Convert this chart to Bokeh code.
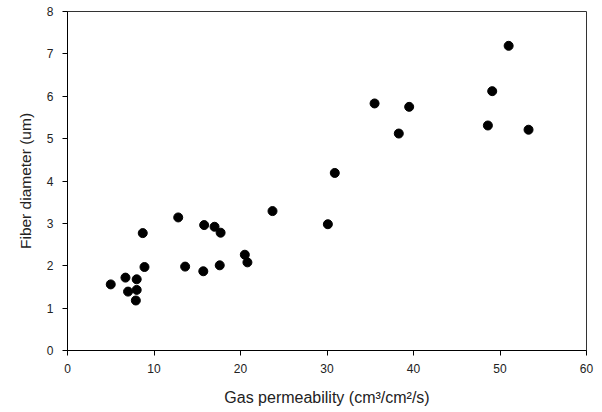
from bokeh.plotting import figure
from bokeh.embed import file_html
from bokeh.resources import INLINE
from bokeh.models import Range1d, FixedTicker

gas_permeability = [5.0, 6.7, 7.0, 8.0, 8.0, 7.9, 8.7, 8.9, 12.8, 13.6, 15.8, 15.7, 17.0,
                    17.7, 17.6, 20.5, 20.8, 23.7, 30.1, 30.9, 35.5, 38.3, 39.5, 48.6, 49.1, 51.0, 53.3]
fiber_diameter = [1.56, 1.72, 1.39, 1.68, 1.43, 1.18, 2.77, 1.97, 3.14, 1.98, 2.96, 1.87, 2.92,
                  2.78, 2.01, 2.26, 2.08, 3.29, 2.98, 4.19, 5.83, 5.12, 5.75, 5.31, 6.12, 7.19, 5.21]
x_ticks = [0, 10, 20, 30, 40, 50, 60]
y_ticks = [0, 1, 2, 3, 4, 5, 6, 7, 8]

FONT = "Liberation Sans"

p = figure(width=602, height=412, output_backend="svg", toolbar_location=None,
           x_range=Range1d(0, 60), y_range=Range1d(0, 8),
           min_border_left=67, min_border_right=16, min_border_top=11, min_border_bottom=62)

p.scatter(gas_permeability, fiber_diameter, size=9, color="black", marker="circle")

p.grid.visible = False
p.outline_line_color = "#333333"
p.outline_line_width = 1

for ax in (p.xaxis[0], p.yaxis[0]):
    ax.axis_line_color = "black"
    ax.major_tick_line_color = "black"
    ax.major_tick_out = 5
    ax.major_tick_in = 0
    ax.minor_tick_line_color = None
    ax.major_label_text_font = FONT
    ax.major_label_text_font_size = "12px"
    ax.major_label_text_color = "#222222"
    ax.axis_label_text_font = FONT
    ax.axis_label_text_font_style = "normal"
    ax.axis_label_text_color = "#222222"

p.xaxis.axis_label_text_font_size = "16px"
p.yaxis.axis_label_text_font_size = "15.5px"
p.xaxis.ticker = FixedTicker(ticks=x_ticks)
p.yaxis.ticker = FixedTicker(ticks=y_ticks)
p.xaxis.axis_label = "Gas permeability (cm\u00b3/cm\u00b2/s)"
p.yaxis.axis_label = "Fiber diameter (um)"
p.xaxis.major_label_standoff = 8
p.yaxis.major_label_standoff = 9
p.xaxis.axis_label_standoff = 13
p.yaxis.axis_label_standoff = 10

open("out.html", "w").write(file_html(p, INLINE))
